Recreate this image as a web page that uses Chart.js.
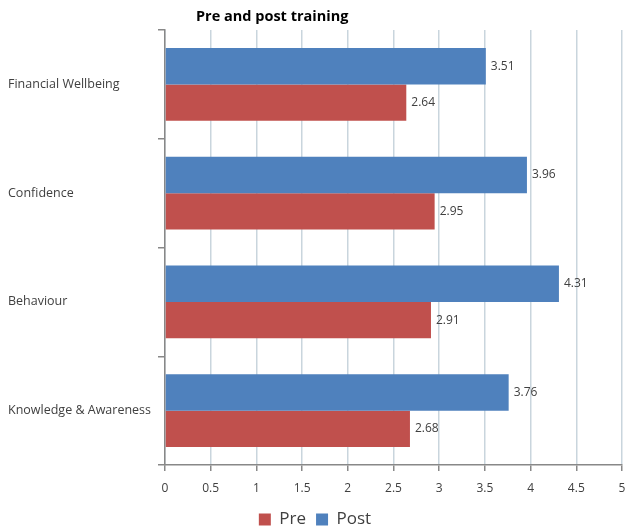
<!DOCTYPE html>
<html>
<head>
<meta charset="utf-8">
<script src="https://cdn.jsdelivr.net/npm/chart.js@4.4.1/dist/chart.umd.min.js"></script>
<style>
  html, body { margin: 0; padding: 0; background: #fff; }
  #wrap { width: 625px; height: 532px; position: relative; }
</style>
</head>
<body>
<div id="wrap"><canvas id="chart"></canvas></div>
<script>
// data
const categories = ['Financial Wellbeing', 'Confidence', 'Behaviour', 'Knowledge & Awareness'];
const preValues = [2.64, 2.95, 2.91, 2.68];
const postValues = [3.51, 3.96, 4.31, 3.76];
const xTicks = [0, 0.5, 1, 1.5, 2, 2.5, 3, 3.5, 4, 4.5, 5];
const chartTitle = 'Pre and post training';

const FONT = "'Open Sans', 'Noto Sans', sans-serif";

// value labels at bar ends
const valueLabels = {
  id: 'valueLabels',
  afterDatasetsDraw(chart) {
    const ctx = chart.ctx;
    ctx.save();
    ctx.font = '12px ' + FONT;
    ctx.fillStyle = '#404040';
    ctx.textBaseline = 'middle';
    ctx.textAlign = 'left';
    chart.data.datasets.forEach((ds, i) => {
      chart.getDatasetMeta(i).data.forEach((bar, j) => {
        ctx.fillText(ds.data[j].toFixed(2), bar.x + 5, bar.y);
      });
    });
    ctx.restore();
  }
};

// title sits a bit right of the plot's left edge
const titlePlugin = {
  id: 'offsetTitle',
  afterDraw(chart) {
    const ctx = chart.ctx;
    ctx.save();
    ctx.font = 'bold 14.5px ' + FONT;
    ctx.fillStyle = '#000';
    ctx.textBaseline = 'middle';
    ctx.fillText(chartTitle, chart.chartArea.left + 31, 17);
    ctx.restore();
  }
};

new Chart(document.getElementById('chart').getContext('2d'), {
  type: 'bar',
  data: {
    labels: categories,
    datasets: [
      { label: 'Post', data: postValues, backgroundColor: '#4F81BD', borderWidth: 0 },
      { label: 'Pre', data: preValues, backgroundColor: '#C0504D', borderWidth: 0 }
    ]
  },
  options: {
    indexAxis: 'y',
    responsive: true,
    maintainAspectRatio: false,
    animation: false,
    layout: { padding: { top: 30, right: 3, left: 8, bottom: -6 } },
    datasets: { bar: { categoryPercentage: 0.67, barPercentage: 1 } },
    scales: {
      x: {
        min: 0, max: 5,
        afterBuildTicks(scale) { scale.ticks = xTicks.map(v => ({ value: v })); },
        afterFit(scale) { scale.paddingRight = 0; scale.height = 36; },
        grid: { color: '#c9d5dd', lineWidth: 1.5, tickLength: 6, tickColor: '#888' },
        border: { color: '#888', width: 1.5 },
        ticks: {
          font: { family: FONT, size: 12 }, color: '#404040', padding: 10, maxRotation: 0,
          callback: v => String(v)
        }
      },
      y: {
        afterFit(scale) { scale.width = 157; },
        grid: { offset: true, drawOnChartArea: false, tickLength: 7, tickColor: '#888', lineWidth: 1.5 },
        border: { color: '#888', width: 1.5 },
        ticks: { font: { family: FONT, size: 12.5 }, color: '#404040', crossAlign: 'far', padding: 4 }
      }
    },
    plugins: {
      title: { display: false },
      tooltip: { enabled: false },
      legend: {
        position: 'bottom',
        reverse: true,
        labels: { font: { family: FONT, size: 17 }, color: '#404040', boxWidth: 12, boxHeight: 12, padding: 10 }
      }
    }
  },
  plugins: [valueLabels, titlePlugin]
});
</script>
</body>
</html>
